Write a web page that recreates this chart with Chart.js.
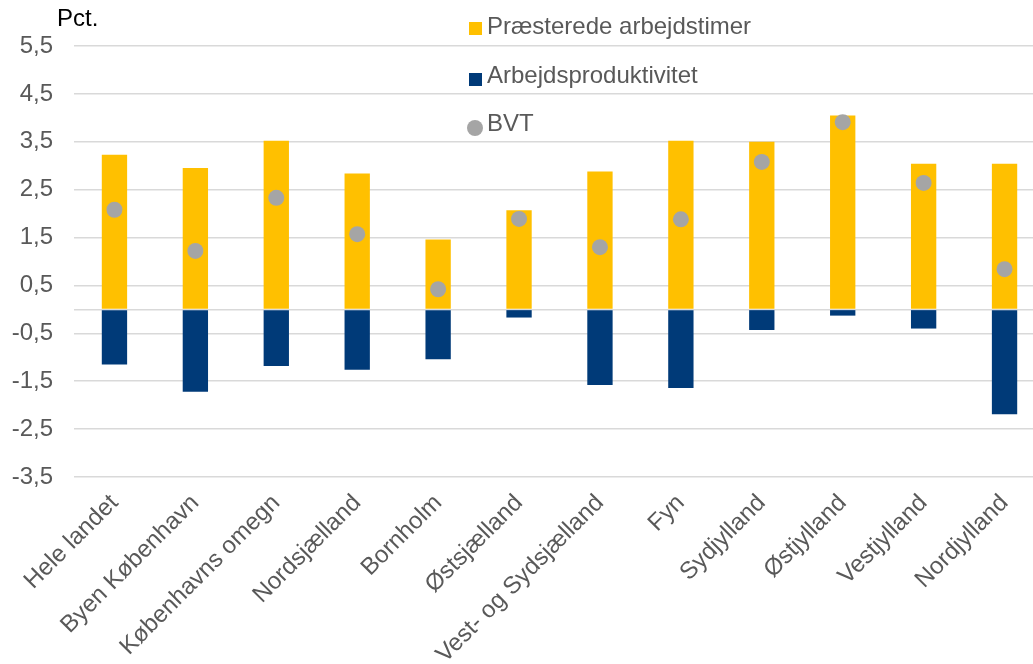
<!DOCTYPE html>
<html>
<head>
<meta charset="utf-8">
<script src="https://cdn.jsdelivr.net/npm/chart.js@4/dist/chart.umd.min.js"></script>
<style>
  html, body { margin: 0; padding: 0; background: #fff; overflow: hidden; }
  #wrap { position: relative; width: 1053px; height: 664px; }
  .lbl { position: absolute; font-family: "Liberation Sans", Arial, sans-serif; font-size: 24px; line-height: 28px; color: #595959; white-space: nowrap; }
  .sw { position: absolute; }
</style>
</head>
<body>
<div id="wrap">
  <canvas id="myChart" width="1053" height="664"></canvas>
  <div class="lbl" style="left:57px; top:4px; color:#000;">Pct.</div>
  <div class="sw" style="left:469px; top:22px; width:13px; height:13px; background:#FFC000;"></div>
  <div class="lbl" style="left:487px; top:12px;">Præsterede arbejdstimer</div>
  <div class="sw" style="left:469px; top:73px; width:13px; height:13px; background:#003A78;"></div>
  <div class="lbl" style="left:487px; top:61px;">Arbejdsproduktivitet</div>
  <div class="sw" style="left:467px; top:120px; width:16px; height:16px; border-radius:50%; background:#A5A5A5;"></div>
  <div class="lbl" style="left:487px; top:109px;">BVT</div>
</div>
<script>
var regioner = ['Hele landet', 'Byen København', 'Københavns omegn', 'Nordsjælland', 'Bornholm', 'Østsjælland',
  'Vest- og Sydsjælland', 'Fyn', 'Sydjylland', 'Østjylland', 'Vestjylland', 'Nordjylland'];
var timer = [3.23, 2.95, 3.52, 2.84, 1.46, 2.07, 2.88, 3.52, 3.50, 4.05, 3.04, 3.04];
var produktivitet = [-1.15, -1.72, -1.18, -1.26, -1.04, -0.17, -1.58, -1.64, -0.43, -0.13, -0.40, -2.19];
var bvt = [2.08, 1.22, 2.33, 1.57, 0.42, 1.89, 1.30, 1.88, 3.08, 3.91, 2.64, 0.84];
var yTicks = [-3.5, -2.5, -1.5, -0.5, 0.5, 1.5, 2.5, 3.5, 4.5, 5.5];
var yLabels = ['-3,5', '-2,5', '-1,5', '-0,5', '0,5', '1,5', '2,5', '3,5', '4,5', '5,5'];

var font = "'Liberation Sans', Arial, sans-serif";
var ctx = document.getElementById('myChart').getContext('2d');

var chart = new Chart(ctx, {
  data: {
    labels: regioner,
    datasets: [{
      type: 'line',
      label: 'BVT',
      data: bvt,
      showLine: false,
      pointRadius: 8,
      pointHoverRadius: 8,
      pointBorderWidth: 0,
      pointBackgroundColor: '#A5A5A5',
      order: 0
    }, {
      type: 'bar',
      label: 'Præsterede arbejdstimer',
      data: timer,
      backgroundColor: '#FFC000',
      grouped: false,
      categoryPercentage: 1,
      barPercentage: 0.313,
      order: 1
    }, {
      type: 'bar',
      label: 'Arbejdsproduktivitet',
      data: produktivitet,
      backgroundColor: '#003A78',
      grouped: false,
      categoryPercentage: 1,
      barPercentage: 0.313,
      order: 1
    }]
  },
  options: {
    responsive: false,
    animation: false,
    layout: { padding: { top: 46, right: 1, left: 0, bottom: 0 } },
    plugins: { legend: { display: false }, tooltip: { enabled: false } },
    scales: {
      x: {
        grid: { display: false },
        border: { display: false },
        ticks: { color: '#595959', font: { family: font, size: 24 }, minRotation: 45, maxRotation: 45, padding: 4 },
        afterFit: function(s) { s.height = 187; }
      },
      y: {
        min: -3.5,
        max: 5.5,
        border: { display: false },
        grid: { color: '#D9D9D9', lineWidth: 1.5, drawTicks: false },
        afterBuildTicks: function(s) {
          s.ticks = yTicks.map(function(v) { return { value: v }; });
          s.ticks.push({ value: 0 });
        },
        ticks: {
          color: '#595959',
          padding: 21,
          font: { family: font, size: 24 },
          callback: function(v) {
            var i = yTicks.indexOf(v);
            return i < 0 ? '' : yLabels[i];
          }
        },
        afterFit: function(s) { s.width = 74; }
      }
    }
  }
});
</script>
</body>
</html>
